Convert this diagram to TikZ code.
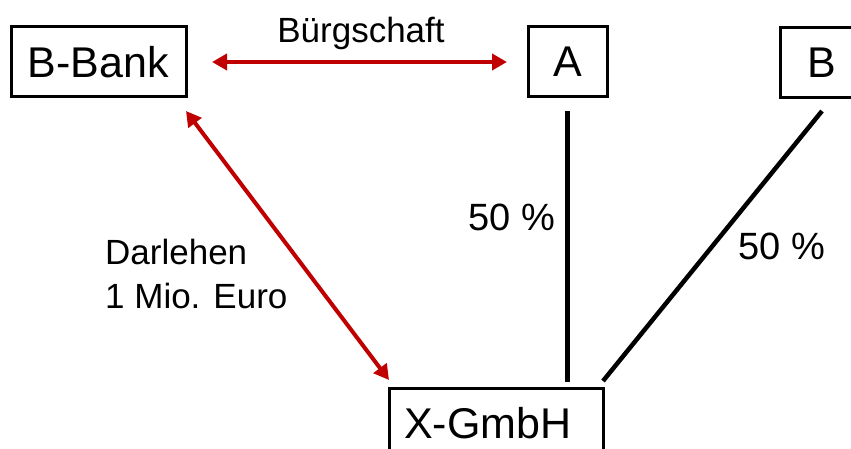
\documentclass[tikz,border=0pt]{standalone}
\usepackage{fontspec}
\setmainfont{Liberation Sans}
\usetikzlibrary{arrows.meta}
\definecolor{arrred}{HTML}{C00000}
\tikzset{
  box/.style={draw=black, line width=3pt, inner sep=0pt, outer sep=0pt, minimum height=70pt, font=\fontsize{43}{50}\selectfont},
  lbl/.style={inner sep=0pt, font=\fontsize{35}{44}\selectfont},
  pct/.style={inner sep=0pt, font=\fontsize{38}{46}\selectfont},
  share/.style={draw=black, line width=4.5pt},
  rel/.style={draw=arrred, line width=4pt, {Triangle[length=15pt,width=16pt]}-{Triangle[length=15pt,width=16pt]}}
}
\begin{document}
\begin{tikzpicture}[x=1pt,y=-1pt]
\clip (0,0) rectangle (851,449);
\fill[white] (0,0) rectangle (851,449);
% boxes
\node[box, minimum width=175pt] (BB) at (98.5,62) {B-Bank};
\node[box, minimum width=79pt] (A) at (567.5,62) {A};
\node[box, minimum width=84pt] (B) at (822,63) {B};
\node[box, text width=184pt, align=left, inner xsep=15pt] (X) at (496,423) {X-GmbH};
% ownership lines
\coordinate (a1) at ([yshift=-14pt]A.south);
\coordinate (a2) at ([yshift=6pt]A.south |- X.north);
\draw[share] (a1) -- (a2);
\coordinate (b1) at ([yshift=-13pt]B.south);
\coordinate (b2) at ([yshift=7pt]X.north east);
\draw[share] (b1) -- (b2);
% red relations
\draw[rel, shorten <=26pt, shorten >=21pt] (BB.east) -- (A.west);
\coordinate (r1) at ([yshift=-14pt]BB.south east);
\coordinate (r2) at ([yshift=8pt]X.north west);
\draw[rel] (r1) -- (r2);
% labels
\node[lbl, anchor=base] (tb) at (361,43) {Bürgschaft};
\node[lbl, anchor=base west] (td) at (105,264) {Darlehen};
\node[lbl, anchor=base west] (tm) at (105,308) {1 Mio. Euro};
\node[pct, anchor=base] (p1) at (512,230) {50 \%};
\node[pct, anchor=base] (p2) at (782,259) {50 \%};
\end{tikzpicture}
\end{document}
